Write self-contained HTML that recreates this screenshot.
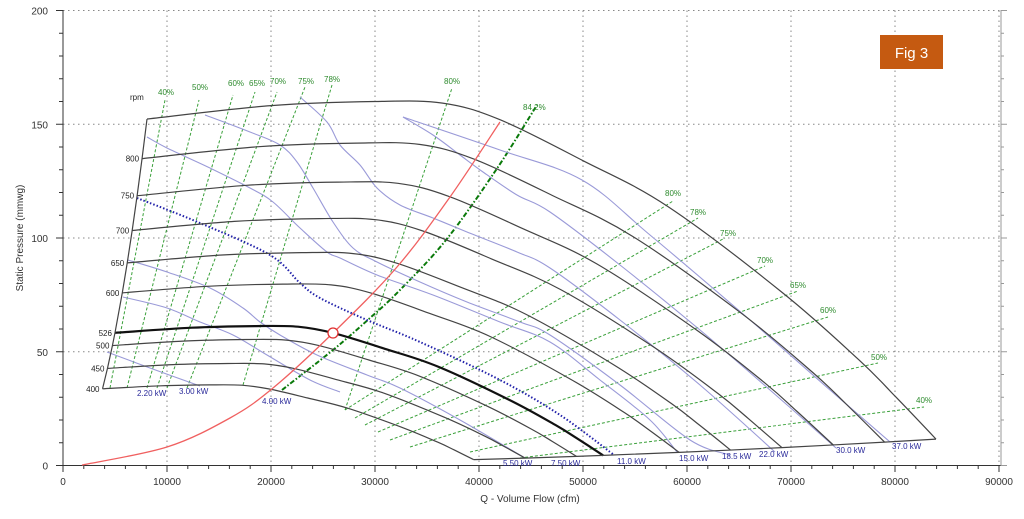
<!DOCTYPE html>
<html><head><meta charset="utf-8"><style>
body{margin:0;background:#fff;width:1024px;height:519px;overflow:hidden}
svg{display:block;font-family:"Liberation Sans",sans-serif}
</style></head><body>
<svg id="s" width="1024" height="519" viewBox="0 0 1024 519">
<g id="grid" stroke="#888" stroke-width="1" stroke-dasharray="1.5,3.5" fill="none"></g>
<g id="ticks" stroke="#333" stroke-width="1"></g>
<g id="tl" font-size="10" fill="#333"></g>
<g id="green" fill="none" stroke="#3aa03a" stroke-width="1" stroke-dasharray="3,2"></g>
<g id="purple" fill="none" stroke="#9a9ad8" stroke-width="1.1"></g>
<g id="fans" fill="none" stroke="#444" stroke-width="1.2"></g>
<g id="lbl" font-size="8" fill="#222"></g>
<g id="glbl" font-size="8" fill="#2e8b2e"></g>
<g id="klbl" font-size="8" fill="#2a2a9a"></g>
<text x="530" y="502" font-size="10" fill="#333" text-anchor="middle">Q - Volume Flow (cfm)</text>
<text transform="translate(23,238) rotate(-90)" font-size="10" fill="#333" text-anchor="middle">Static Pressure (mmwg)</text>
<rect x="880" y="35" width="63" height="34" fill="#c55a11"/>
<text x="911.5" y="58" font-size="15" fill="#fff" text-anchor="middle">Fig 3</text>
</svg>
<script>
(function(){
var NS="http://www.w3.org/2000/svg";
function el(g,t,a,txt){var e=document.createElementNS(NS,t);for(var k in a)e.setAttribute(k,a[k]);if(txt!==undefined)e.textContent=txt;document.getElementById(g).appendChild(e);return e;}
function X(q){return 63+q/10000*104;}
function Y(p){return 465.5-p*2.275;}
for(var i=1;i<=9;i++)el("grid","line",{x1:X(i*10000),y1:10.5,x2:X(i*10000),y2:465});
for(var j=1;j<=4;j++)el("grid","line",{x1:63,y1:Y(j*50),x2:1001,y2:Y(j*50)});
el("ticks","line",{x1:63,y1:10,x2:63,y2:466});
el("ticks","line",{x1:63,y1:465.5,x2:1001,y2:465.5});
el("ticks","line",{x1:1001,y1:10,x2:1001,y2:466,stroke:"#999"});
for(var q=0;q<=90000;q+=2000){var big=q%10000==0;el("ticks","line",{x1:X(q),y1:465,x2:X(q),y2:big?472:469});}
for(var p=0;p<=200;p+=10){var b2=p%50==0;el("ticks","line",{x1:b2?56:59,y1:Y(p),x2:63,y2:Y(p)});el("ticks","line",{x1:1001,y1:Y(p),x2:b2?1007:1004,y2:Y(p),stroke:"#999"});}
for(var i2=0;i2<=9;i2++)el("tl","text",{x:X(i2*10000),y:485,"text-anchor":"middle"},String(i2*10000));
for(var j2=0;j2<=4;j2++)el("tl","text",{x:48,y:Y(j2*50)+4,"text-anchor":"end"},String(j2*50));
function f(v){return v.toFixed(1);}
function path(pts){var d="M"+f(pts[0][0])+","+f(pts[0][1]);
 for(var i=0;i<pts.length-1;i++){var p0=pts[i-1]||pts[i],p1=pts[i],p2=pts[i+1],p3=pts[i+2]||p2;
 var c1=[p1[0]+(p2[0]-p0[0])/6,p1[1]+(p2[1]-p0[1])/6],c2=[p2[0]-(p3[0]-p1[0])/6,p2[1]-(p3[1]-p1[1])/6];
 d+=" C"+f(c1[0])+","+f(c1[1])+" "+f(c2[0])+","+f(c2[1])+" "+f(p2[0])+","+f(p2[1]);}return d;}
var topc=[[8077,152.3],[20000,158.2],[30000,160],[36500,159.3],[42020,152],[50000,134],[58173,113.8],[69230,75.8],[76538,46.4],[80000,30.5],[83942,11.6]];
var rpms=[850,800,750,700,650,600,526,500,450,400];
var starts=[],ends=[];
rpms.forEach(function(n){var k=n/850;var pts=topc.map(function(a){return [X(a[0]*k),Y(a[1]*k*k)];});
 starts.push(pts[0]);ends.push(pts[pts.length-1]);
 el("fans","path",{d:path(pts),stroke:n==526?"#111":"#444","stroke-width":n==526?2.2:1.2});
 if(n!=850)el("lbl","text",{x:pts[0][0]-3,y:pts[0][1]+3,"text-anchor":"end"},String(n));});
el("lbl","text",{x:130,y:100},"rpm");
el("fans","polyline",{points:starts.map(function(p){return p.join(",");}).join(" ")});
el("fans","polyline",{points:ends.map(function(p){return p.join(",");}).join(" ")});
var gl=[[110,388,165,100,"40%",158,95],[127,388,199,100,"50%",192,90],[147,388,233,95,"60%",228,86],[157,388,255,92,"65%",249,86],[167,388,277,92,"70%",270,84],[187,388,305,87,"75%",298,84],[243,385,332,85,"78%",324,82],[345,410,452,88,"80%",444,84],
[345,410,673,201,"80%",665,196],[355,418,698,218,"78%",690,215],[365,425,725,238,"75%",720,236],[378,432,765,266,"70%",757,263],[390,440,798,291,"65%",790,288],[410,447,828,317,"60%",820,313],[470,452,878,363,"50%",871,360],[520,458,924,407,"40%",916,403]];
gl.forEach(function(g){el("green","line",{x1:g[0],y1:g[1],x2:g[2],y2:g[3]});el("glbl","text",{x:g[5],y:g[6]},g[4]);});
el("green","path",{d:path([[282,390],[333,350],[370,318],[400,290],[446,240],[496,170],[537,105]]),stroke:"#0a7a0a","stroke-width":2,"stroke-dasharray":"5,2,1.5,2"});
el("glbl","text",{x:523,y:110},"84.2%");
var pl=[
[[107,352],[150,368],[200,386]],
[[123,297],[167,308],[200,322],[233,335],[267,355],[310,380],[340,392]],
[[128,260],[167,272],[210,288],[243,308],[260,322],[280,335],[317,355],[367,375],[400,388],[460,420],[525,458]],
[[147,137],[167,148],[210,168],[250,188],[273,202],[300,228],[327,252],[340,258],[377,275],[433,295],[500,322],[550,342],[600,380],[650,420],[677,452]],
[[205,115],[250,132],[280,145],[297,162],[313,188],[333,222],[353,248],[377,262],[420,282],[467,302],[520,322],[550,335],[620,385],[690,440],[730,455]],
[[300,97],[327,122],[340,145],[360,165],[377,188],[400,205],[433,218],[467,232],[517,252],[550,268],[620,320],[700,385],[775,452]],
[[403,117],[433,135],[460,155],[483,172],[517,195],[550,212],[620,265],[700,330],[770,390],[836,448]],
[[403,117],[500,150],[582,180],[650,235],[750,320],[830,390],[890,442]]];
pl.forEach(function(p){el("purple","path",{d:path(p)});});
el("purple","path",{d:path([[137,198],[200,223],[270,255],[300,283],[320,298],[367,320],[420,342],[500,380],[560,415],[614,455]]),stroke:"#2222aa","stroke-width":2,"stroke-dasharray":"1.5,2"});
el("fans","path",{d:path([[82,465],[167,447],[230,418],[273,388],[333,333],[397,267],[450,197],[500,122]]),stroke:"#f06060","stroke-width":1.3});
el("fans","circle",{cx:333,cy:333,r:5,stroke:"#e03030","stroke-width":1.3,fill:"#fff"});
[["2.20 kW",137,396],["3.00 kW",179,394],["4.00 kW",262,404],["5.50 kW",503,466],["7.50 kW",551,466],["11.0 kW",617,464],["15.0 kW",679,461],["18.5 kW",722,459],["22.0 kW",759,457],["30.0 kW",836,453],["37.0 kW",892,449]].forEach(function(k){el("klbl","text",{x:k[1],y:k[2]},k[0]);});
})();
</script>
</body></html>
